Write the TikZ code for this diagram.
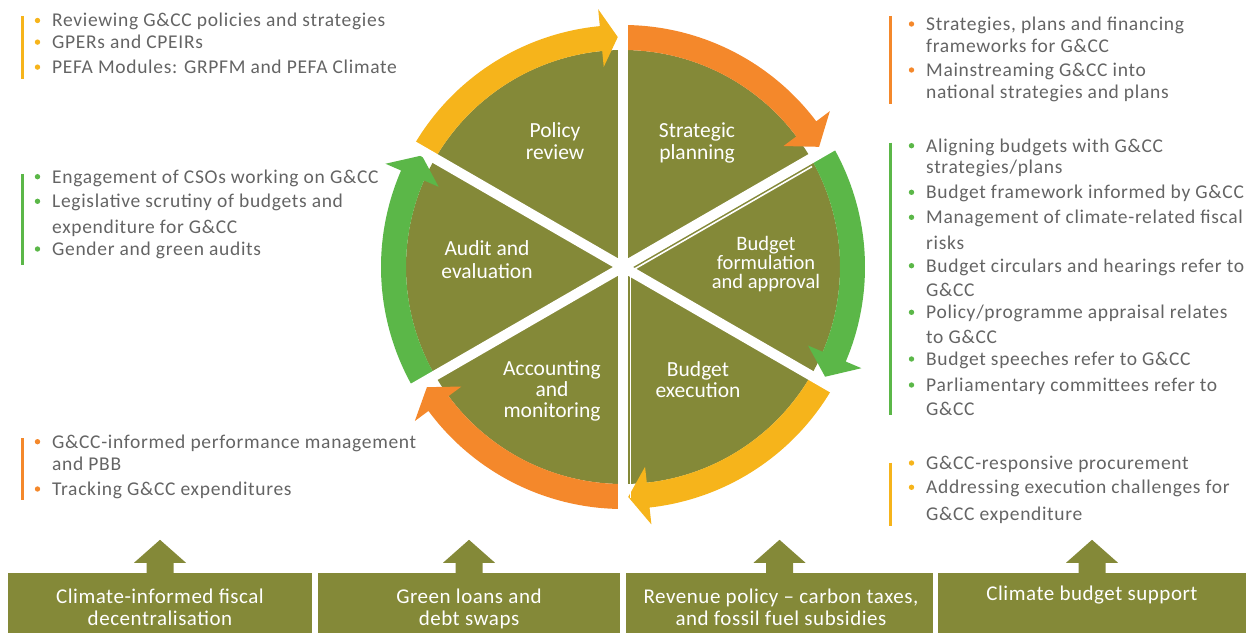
\documentclass[tikz,border=0pt]{standalone}
\usepackage{fontspec}
\setmainfont{Carlito}
\newfontfamily\listfont{Carlito}[LetterSpace=3.5]
\newfontfamily\boxfont{Carlito}[LetterSpace=2.5]
\usetikzlibrary{calc}

\definecolor{olivebg}{RGB}{132,137,56}
\definecolor{cycyellow}{RGB}{246,180,27}
\definecolor{cycorange}{RGB}{244,136,43}
\definecolor{cycgreen}{RGB}{91,183,72}
\definecolor{listgray}{RGB}{100,100,100}

% curved block arrow around the cycle: colour, tail angle, head base angle, tip angle
\newcommand\cyclearrow[4]{%
  \fill[#1] (#2:242pt) arc[start angle=#2, end angle=#3, radius=242pt]
    -- (#3:259pt) -- (#4:230pt) -- (#3:201pt) -- (#3:217pt)
    arc[start angle=#3, end angle=#2, radius=217pt] -- cycle;}

% bullet dot in front of a list line
\newcommand\listdot[2]{\fill[#1] ($(#2.base west)+(-14.5,6.5)$) circle[radius=2.7pt];}

% upward block arrow standing on a box
\newcommand\uparrowon[1]{%
  \fill[olivebg] (#1.north) ++(-13.5,-0.5) -- ++(0,10.5) -- ++(-12.5,0)
    -- ++(26,23) -- ++(26,-23) -- ++(-12.5,0) -- ++(0,-10.5) -- cycle;}

\begin{document}
\begin{tikzpicture}[x=1pt,y=1pt,
  lsttext/.style={inner sep=0pt, anchor=base west, text=listgray,
    font=\listfont\fontsize{19.5}{22}\selectfont},
  pielabel/.style={inner sep=0pt, anchor=base, align=center, text=white,
    font=\fontsize{21.5}{21.3}\selectfont},
  boxlabel/.style={inner sep=0pt, anchor=base, align=center, text=white,
    font=\boxfont\fontsize{21}{21.5}\selectfont},
  infobox/.style={fill=olivebg, inner sep=0pt, minimum height=60pt},
  sidebar/.style={line width=2.6pt}
]
\useasboundingbox (0,0) rectangle (1251,633);

% ---------------- the cycle ----------------
\begin{scope}[shift={(623,366)}]
  \fill[olivebg] (0,0) circle[radius=217pt];
  \cyclearrow{cycyellow}{150}{95.5}{91.3}
  \cyclearrow{cycorange}{90}{37}{31.5}
  \cyclearrow{cycgreen}{30}{-23}{-28.5}
  \cyclearrow{cycyellow}{-30}{-83.7}{-88.7}
  \cyclearrow{cycorange}{-90}{-143.5}{-148.5}
  \cyclearrow{cycgreen}{210}{156.5}{151}
  % white spokes between the stages
  \foreach \a in {30,90,150}
    {\draw[white, line width=10pt] (\a:270pt) -- (\a+180:270pt);}
  % hairline edges of two stages
  \draw[white, line width=1.6pt] ($(-60:7.5pt)$) -- ($(-60:7.5pt)+(30:214pt)$);
  \draw[white, line width=1.6pt] (7.5pt,0pt) -- (7.5pt,-231pt);
\end{scope}

% stage names (anchored at the baseline of their last line)
\node[pielabel] (policy) at (555,473.7) {Policy\\review};
\node[pielabel] (strategic) at (697,473.7) {Strategic\\planning};
\node[pielabel, font=\fontsize{20.5}{19.5}\selectfont] (formulation) at (766,344) {Budget\\formulation\\and approval};
\node[pielabel] (execution) at (698,235.6) {Budget\\execution};
\node[pielabel, font=\fontsize{21.5}{20.8}\selectfont] (accounting) at (552,215.6) {Accounting\\and\\monitoring};
\node[pielabel, font=\fontsize{21.5}{23}\selectfont] (audit) at (487,354) {Audit and\\evaluation};

% ---------------- lists, left ----------------
\draw[sidebar, cycyellow] (22.7,617) -- (22.7,554);
\node[lsttext] (pr1) at (52,606) {Reviewing G\&CC policies and strategies};
\node[lsttext] (pr2) at (52,584.4) {GPERs and CPEIRs};
\node[lsttext] (pr3) at (52,559.4) {PEFA Modules: GRPFM and PEFA Climate};
\foreach \n in {pr1,pr2,pr3} {\listdot{cycyellow}{\n}}

\draw[sidebar, cycgreen] (22.7,459) -- (22.7,368);
\node[lsttext] (ae1) at (52,449.8) {Engagement of CSOs working on G\&CC};
\node[lsttext] (ae2) at (52,425.2) {Legislative scrutiny of budgets and};
\node[lsttext] (ae2b) at (52,399.2) {expenditure for G\&CC};
\node[lsttext] (ae3) at (52,377.5) {Gender and green audits};
\foreach \n in {ae1,ae2,ae3} {\listdot{cycgreen}{\n}}

\draw[sidebar, cycorange] (22.7,195) -- (22.7,133);
\node[lsttext] (am1) at (52,184.8) {G\&CC-informed performance management};
\node[lsttext] (am1b) at (52,162.5) {and PBB};
\node[lsttext] (am2) at (52,137.5) {Tracking G\&CC expenditures};
\foreach \n in {am1,am2} {\listdot{cycorange}{\n}}

% ---------------- lists, right ----------------
\draw[sidebar, cycorange] (890.7,617) -- (890.7,529);
\node[lsttext] (sp1) at (926,602.5) {Strategies, plans and financing};
\node[lsttext] (sp1b) at (926,580.8) {frameworks for G\&CC};
\node[lsttext] (sp2) at (926,556.5) {Mainstreaming G\&CC into};
\node[lsttext] (sp2b) at (926,534.8) {national strategies and plans};
\foreach \n in {sp1,sp2} {\listdot{cycorange}{\n}}

\draw[sidebar, cycgreen] (890.7,490.3) -- (890.7,218);
\node[lsttext] (bf1) at (926,480.8) {Aligning budgets with G\&CC};
\node[lsttext] (bf1b) at (926,459.2) {strategies/plans};
\node[lsttext] (bf2) at (926,434.2) {Budget framework informed by G\&CC};
\node[lsttext] (bf3) at (926,409.2) {Management of climate-related fiscal};
\node[lsttext] (bf3b) at (926,383.2) {risks};
\node[lsttext] (bf4) at (926,360.8) {Budget circulars and hearings refer to};
\node[lsttext] (bf4b) at (926,336.8) {G\&CC};
\node[lsttext] (bf5) at (926,314.2) {Policy/programme appraisal relates};
\node[lsttext] (bf5b) at (926,289.2) {to G\&CC};
\node[lsttext] (bf6) at (926,267.5) {Budget speeches refer to G\&CC};
\node[lsttext] (bf7) at (926,241.5) {Parliamentary committees refer to};
\node[lsttext] (bf7b) at (926,217.5) {G\&CC};
\foreach \n in {bf1,bf2,bf3,bf4,bf5,bf6,bf7} {\listdot{cycgreen}{\n}}

\draw[sidebar, cycyellow] (890.7,170.3) -- (890.7,107);
\node[lsttext] (be1) at (926,163.5) {G\&CC-responsive procurement};
\node[lsttext] (be2) at (926,139.2) {Addressing execution challenges for};
\node[lsttext] (be2b) at (926,112.5) {G\&CC expenditure};
\foreach \n in {be1,be2} {\listdot{cycyellow}{\n}}

% ---------------- supporting instruments ----------------
\node[infobox, minimum width=304pt] (b1) at (160,30) {};
\node[infobox, minimum width=302pt] (b2) at (469,30) {};
\node[infobox, minimum width=307pt] (b3) at (779.5,30) {};
\node[infobox, minimum width=308pt] (b4) at (1092,30) {};
\foreach \n in {b1,b2,b3,b4} {\uparrowon{\n}}

\node[boxlabel] (t1) at (160,8) {Climate-informed fiscal\\decentralisation};
\node[boxlabel] (t2) at (469,8) {Green loans and\\debt swaps};
\node[boxlabel] (t3) at (781,8) {Revenue policy – carbon taxes,\\and fossil fuel subsidies};
\node[boxlabel] (t4) at (1092,32.3) {Climate budget support};
\end{tikzpicture}
\end{document}
